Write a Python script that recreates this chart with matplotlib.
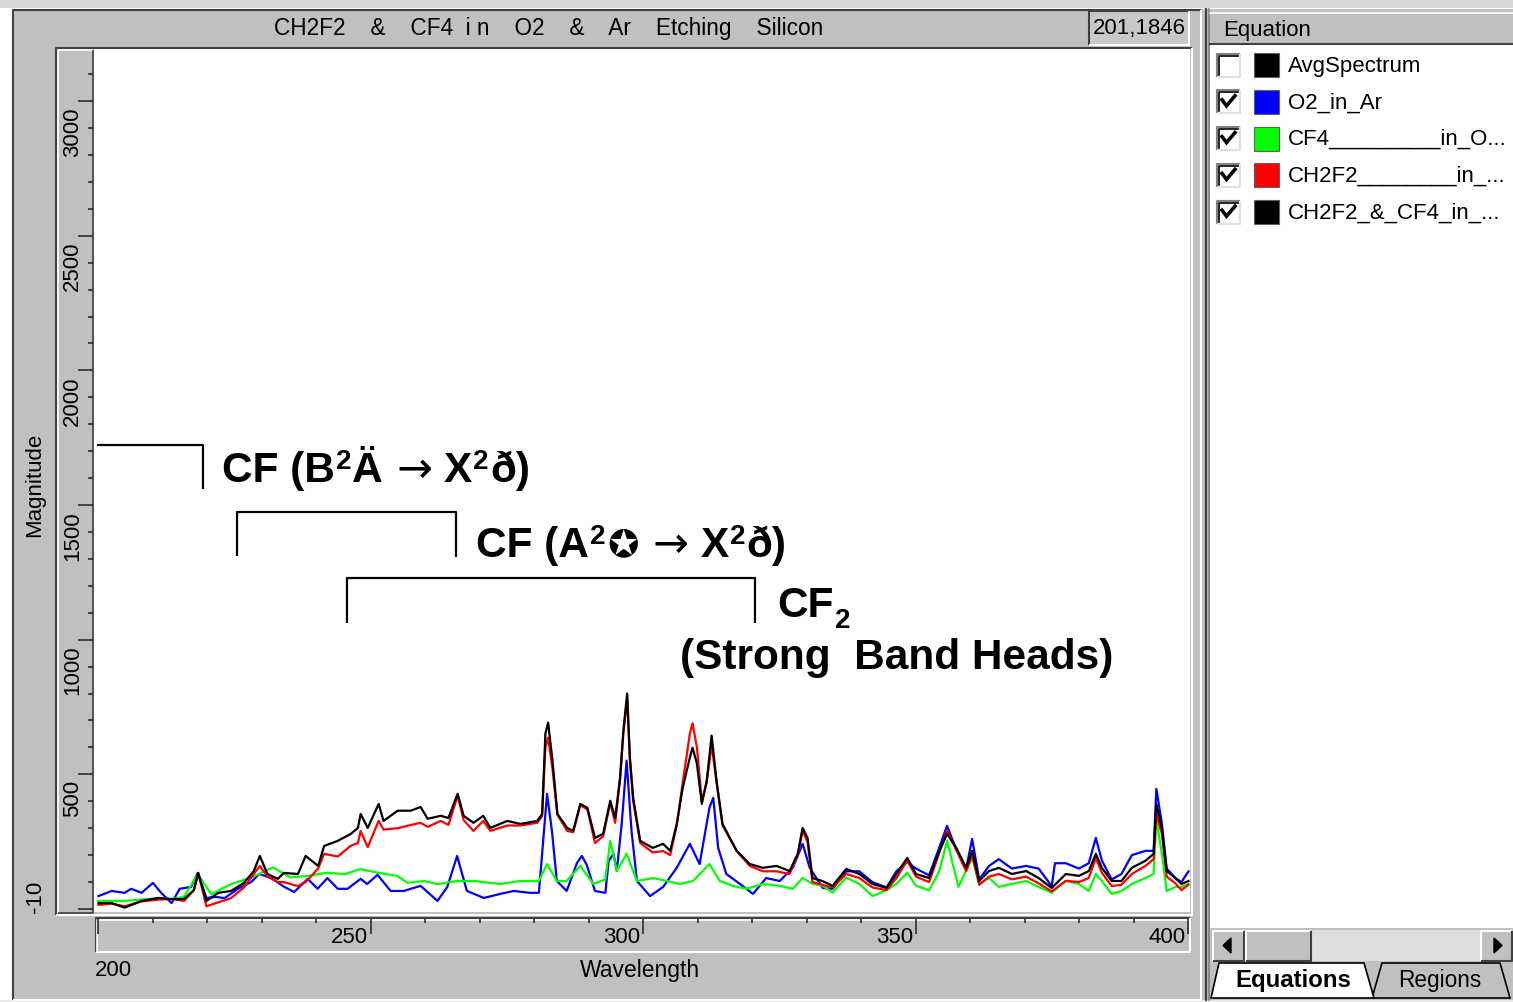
import matplotlib
matplotlib.use('Agg')
import matplotlib.pyplot as plt
from matplotlib.patches import Rectangle, Polygon
from matplotlib.ticker import MultipleLocator

# spectra: wavelength (nm) / magnitude
wl_o2 = [200, 202.4, 204.8, 206, 207.9, 210, 211.5, 213.4, 214.9, 217, 218.2, 219.8, 221.6, 223.1,
         225.6, 228, 229.5, 231.7, 234.1, 235.9, 238.4, 240.2, 242, 243.9, 245.7, 248.1, 249.3,
         251.2, 253.6, 256, 259.1, 262.2, 264, 265.8, 267.6, 270.7, 273.7, 276.2, 279.2, 280.8,
         281.4, 282.3, 283.2, 284.1, 285.9, 287.8, 288.7, 289.6, 291.1, 293, 293.6, 294.5, 295.1,
         296, 296.9, 297.8, 298.8, 301.2, 303.6, 306.1, 308.5, 310.3, 312.1, 312.8, 313.7, 315.2,
         317.7, 320.1, 322.5, 325, 327.4, 329.2, 330.5, 332.9, 334.7, 337.2, 339.6, 342, 344.6,
         346.4, 348.4, 350, 352.4, 354.3, 355.7, 357.4, 359.2, 360.3, 361.6, 363.4, 365.2, 367.6,
         370.2, 372.5, 374.9, 375.5, 377.5, 379.9, 381.7, 383, 384.1, 385.9, 387.7, 389.6, 392.1,
         393.6, 394.1, 395.1, 396, 397.6, 398.7, 400]
o2_in_ar = [48, 67, 60, 75, 60, 97, 60, 22, 75, 82, 134, 41, 45, 40,
            75, 100, 130, 115, 82, 63, 112, 75, 115, 75, 75, 112, 93,
            127, 67, 67, 86, 30, 82, 197, 67, 41, 56, 67, 60, 60,
            205, 428, 290, 104, 67, 171, 197, 163, 67, 60, 178, 205, 141,
            316, 551, 290, 104, 48, 82, 153, 242, 167, 376, 413, 227, 130,
            93, 56, 115, 104, 153, 242, 153, 78, 75, 140, 140, 100, 80,
            140, 175, 150, 125, 230, 309, 220, 150, 260, 110, 160, 185, 150,
            160, 150, 85, 170, 170, 150, 170, 264, 180, 110, 130, 200, 216,
            216, 446, 320, 150, 115, 100, 140]

wl_cf4 = [200, 202.4, 204.8, 207.9, 211, 213.4, 215.7, 218.2, 220.7, 224.3, 228, 232, 235.3, 238.4,
          242, 245.1, 248.1, 251.2, 254.8, 256.7, 259.7, 262.2, 265.8, 268.9, 271.9, 273.7, 277.4,
          280.8, 282.3, 284.1, 285.9, 288.4, 290.8, 293, 293.9, 295.1, 296.9, 298.8, 301.8, 304.2,
          306.7, 309.1, 312.1, 314, 316.4, 318.9, 321.9, 325, 327.4, 329.2, 331.1, 332.9, 334.7,
          337.2, 339.6, 342, 344.6, 346.4, 348.4, 350, 352.4, 354.3, 355.7, 357.8, 360.3, 361.6,
          363.4, 365.2, 367.6, 370.2, 372.5, 374.9, 377.5, 379.9, 381.7, 383, 384.1, 385.9, 387.7,
          389.6, 392.1, 393.6, 394.1, 395.1, 396, 397.6, 398.7, 400]
cf4_in_o2 = [30, 30, 30, 35, 40, 37, 45, 129, 55, 92, 117, 154, 117, 123,
             135, 129, 148, 135, 123, 97, 104, 92, 104, 104, 97, 93, 104,
             104, 167, 104, 104, 160, 93, 110, 253, 141, 205, 104, 115, 104,
             93, 104, 167, 104, 86, 75, 93, 86, 75, 115, 93, 86, 61,
             117, 93, 48, 70, 93, 135, 86, 70, 141, 253, 82, 190, 93,
             115, 82, 93, 104, 82, 61, 104, 93, 67, 130, 104, 56, 67,
             93, 115, 130, 335, 205, 67, 82, 82, 93]

wl_mix = [200, 202.4, 204.8, 207.9, 211, 213.4, 215.7, 217.5, 218.3, 219.8, 222, 224.3, 226.7, 228.5,
          229.6, 231, 232.9, 234, 236.6, 238, 240.3, 241.4, 243.9, 246.3, 247.6, 248.1, 249.4,
          251.4, 252.3, 254.9, 257.3, 259.1, 260.4, 262.8, 264.2, 265.9, 267, 268.8, 270.6, 271.9,
          275, 277.4, 280.5, 281.4, 282, 282.5, 283.3, 284.2, 286, 287.1, 288.4, 289.7, 291.1,
          292.6, 293.9, 294.8, 295.7, 296.3, 297, 297.5, 298.1, 299.4, 301.7, 303.6, 304.9, 306.1,
          307.2, 308.5, 309, 309.8, 310.7, 311.6, 312.5, 313.4, 314.5, 317.1, 319.5, 321.9, 324.4,
          326.8, 328.3, 329.2, 330.1, 331, 332.8, 334.7, 337.2, 339.6, 342, 344.6, 346.4, 348.4,
          350, 352.4, 354.3, 355.7, 357.4, 359.2, 360.3, 361.6, 363.4, 365.2, 367.6, 370.2, 372.5,
          374.9, 377.5, 379.9, 381.7, 383, 384.1, 385.9, 387.7, 389.6, 392.1, 393.6, 394.1, 395.1,
          396, 397.6, 398.7, 400]
mix_in_o2 = [22, 22, 5, 30, 41, 37, 37, 70, 134, 30, 60, 67, 97, 141,
             197, 130, 112, 134, 130, 197, 160, 234, 253, 279, 301, 353, 301,
             390, 327, 365, 365, 379, 335, 346, 338, 428, 346, 320, 346, 301,
             327, 316, 327, 353, 651, 692, 551, 353, 301, 290, 390, 376, 264,
             279, 402, 338, 487, 662, 800, 562, 413, 253, 227, 242, 216, 316,
             450, 562, 599, 540, 390, 476, 644, 476, 316, 216, 167, 153, 160,
             141, 205, 301, 264, 115, 104, 86, 149, 130, 93, 78, 130, 190,
             130, 115, 216, 279, 227, 153, 216, 104, 141, 153, 130, 141, 115,
             78, 130, 123, 141, 205, 153, 104, 104, 153, 179, 205, 390, 301,
             141, 115, 93, 104]

wl_ch2f2 = wl_mix
ch2f2_in_o2 = [15, 20, 10, 28, 35, 37, 30, 70, 134, 10, 25, 40, 80, 130,
               160, 120, 100, 100, 85, 100, 150, 205, 195, 235, 245, 290, 230,
               327, 295, 300, 312, 320, 305, 327, 312, 420, 330, 290, 327, 290,
               310, 310, 320, 345, 600, 636, 520, 350, 290, 285, 385, 370, 245,
               270, 395, 320, 480, 650, 780, 560, 400, 245, 210, 215, 200, 310,
               470, 650, 690, 600, 400, 470, 610, 470, 310, 215, 160, 140, 140,
               130, 200, 290, 250, 100, 90, 80, 130, 115, 80, 70, 115, 180,
               120, 100, 210, 290, 220, 140, 200, 90, 120, 130, 110, 120, 95,
               65, 105, 100, 115, 190, 135, 85, 90, 130, 160, 185, 353, 280,
               120, 95, 70, 90]

legend_names = ['AvgSpectrum', 'O2_in_Ar', 'CF4_________in_O...', 'CH2F2________in_...',
                'CH2F2_&_CF4_in_...']
legend_colors = ['black', '#0000ff', '#00ff00', '#ff0000', 'black']
legend_checked = [False, True, True, True, True]

y_label_ticks = [500, 1000, 1500, 2000, 2500, 3000]
x_label_ticks = [250, 300, 350, 400]

W, H = 1513, 1002
GRAY = '#c0c0c0'
DARK = '#404040'
plt.rcParams['font.family'] = ['Liberation Sans', 'DejaVu Sans']


# pixel -> data mapping of the screenshot
def wl_at(px):
    return 200 + (px - 98.5) / 5.45


def mag_at(py):
    return (909 - py) / 0.2693


def frac(x0, y0, x1, y1):
    return [x0 / W, 1 - y1 / H, (x1 - x0) / W, (y1 - y0) / H]


fig = plt.figure(figsize=(W / 100, H / 100), dpi=100)
fig.patch.set_facecolor('white')

# window chrome drawn on a pixel canvas
ui = fig.add_axes([0, 0, 1, 1])
ui.set_xlim(0, W)
ui.set_ylim(H, 0)
ui.axis('off')


def rect(x0, y0, x1, y1, fc, ec='none', lw=0):
    ui.add_patch(Rectangle((x0, y0), x1 - x0, y1 - y0, facecolor=fc, edgecolor=ec, linewidth=lw))


def bevel(x0, y0, x1, y1, tl, br, lw=1.2):
    ui.plot([x0, x0, x1], [y1, y0, y0], color=tl, lw=lw, solid_capstyle='butt')
    ui.plot([x0, x1, x1], [y1, y1, y0], color=br, lw=lw, solid_capstyle='butt')


rect(0, 0, W, 8, '#d8d8d8')
rect(12, 9, 1202, 1000, GRAY)
bevel(12.5, 9.5, 1201, 1000, DARK, 'white', lw=1.5)

# title strip
ui.text(549, 28, 'CH2F2    &    CF4  i n    O2    &    Ar    Etching    Silicon', ha='center',
        va='center', fontsize=16.3)
rect(1089, 11, 1189, 45, '#c8c8c8')
bevel(1089, 11, 1189, 45, DARK, 'white', lw=1.5)
ui.text(1139, 28, '201,1846', ha='center', va='center', fontsize=16)

# frames round rulers and plot
bevel(56, 47.5, 1192, 915, DARK, 'white', lw=1.5)
bevel(58, 50, 93, 913, 'white', DARK, lw=1.2)
bevel(95.5, 917.5, 1190, 952, DARK, 'white', lw=1.5)
ui.plot([97, 97, 1189], [951, 919.5, 919.5], color='white', lw=1.2)

ui.text(35, 485, 'Magnitude', rotation=90, ha='center', va='center', fontsize=16)
ui.text(35, 897, '-10', rotation=90, ha='center', va='center', fontsize=16)
ui.text(95, 971, '200', ha='left', va='center', fontsize=16)
ui.text(640, 970, 'Wavelength', ha='center', va='center', fontsize=16.5)

# right panel
rect(1202, 9, W, 1000, GRAY)
ui.plot([1205.5, 1205.5], [9, 1000], color=DARK, lw=1.5)
ui.plot([1208.5, 1208.5], [9, 1000], color='#808080', lw=1.2)
rect(1210, 12, W, 44, GRAY)
ui.plot([1210, W], [12.5, 12.5], color='white', lw=1.2)
ui.plot([1210, W], [44, 44], color=DARK, lw=1.5)
ui.text(1223, 30, 'Equation', ha='left', va='center', fontsize=16)
rect(1210, 45, W, 928, 'white')

for i, (name, col, chk) in enumerate(zip(legend_names, legend_colors, legend_checked)):
    yc = 65 + i * 36.8
    rect(1217, yc - 11.5, 1240, yc + 11.5, 'white')
    bevel(1217, yc - 11.5, 1240, yc + 11.5, '#808080', '#e0e0e0', lw=1.5)
    ui.plot([1219, 1219, 1238], [yc + 9.5, yc - 9.5, yc - 9.5], color='black', lw=1.2)
    if chk:
        ui.plot([1222, 1226.5, 1235], [yc - 2, yc + 4, yc - 6], color='black', lw=2.6,
                solid_joinstyle='miter')
    rect(1254, yc - 12, 1279, yc + 12, col, ec='#606060', lw=0.8)
    ui.text(1288, yc + 1, name, ha='left', va='center', fontsize=16)

# scrollbar
for x0, x1 in [(1212, 1245), (1245, 1312), (1480, W)]:
    rect(x0, 930, x1, 961, GRAY)
    bevel(x0 + 0.5, 930.5, x1 - 1, 960.5, 'white', DARK, lw=1.5)
rect(1312, 930, 1480, 961, '#dedede')
ui.add_patch(Polygon([(1223, 945.5), (1231, 938), (1231, 953)], closed=True, color='black'))
ui.add_patch(Polygon([(1502, 945.5), (1494, 938), (1494, 953)], closed=True, color='black'))

# tabs
ui.add_patch(Polygon([(1372, 998), (1382, 963), (1500, 963), (1510, 998)], closed=True,
                     facecolor=GRAY, edgecolor='black', lw=1.2))
ui.add_patch(Polygon([(1211, 998), (1219, 963), (1364, 963), (1374, 998)], closed=True,
                     facecolor='white', edgecolor='black', lw=1.2))
ui.text(1235, 981, 'Equations', ha='left', va='center', fontsize=17.3, fontweight='bold')
ui.text(1398, 981, 'Regions', ha='left', va='center', fontsize=16.3)
rect(0, 1000, W, H, '#e8e8e8')

# plot area
ax = fig.add_axes(frac(94, 49, 1190, 912))
ax.set_facecolor('white')
ax.set_xlim(wl_at(94), wl_at(1190))
ax.set_ylim(mag_at(912), mag_at(49))
ax.set_xticks([])
ax.set_yticks([])
for s in ax.spines.values():
    s.set_visible(False)

lw = 1.6
ax.plot(wl_o2, o2_in_ar, color='#0000ff', lw=lw)
ax.plot(wl_cf4, cf4_in_o2, color='#00ff00', lw=lw)
ax.plot(wl_ch2f2, ch2f2_in_o2, color='#ff0000', lw=lw)
ax.plot(wl_mix, mix_in_o2, color='black', lw=lw)

# band brackets
brk = dict(color='black', lw=1.6, solid_capstyle='butt')
ax.plot([wl_at(97), wl_at(203), wl_at(203)], [mag_at(445), mag_at(445), mag_at(489)], **brk)
ax.plot([wl_at(237), wl_at(237), wl_at(456), wl_at(456)],
        [mag_at(556), mag_at(512), mag_at(512), mag_at(557)], **brk)
ax.plot([wl_at(347), wl_at(347), wl_at(755), wl_at(755)],
        [mag_at(623), mag_at(578), mag_at(578), mag_at(623)], **brk)

# vertical ruler
yr = fig.add_axes(frac(58, 49, 93, 912))
yr.patch.set_visible(False)
yr.set_xlim(0, 1)
yr.set_ylim(mag_at(912), mag_at(49))
for s in yr.spines.values():
    s.set_visible(False)
yr.set_xticks([])
yr.yaxis.tick_right()
yr.set_yticks(range(0, 3001, 500))
yr.yaxis.set_minor_locator(MultipleLocator(100))
yr.tick_params(axis='y', which='major', direction='in', length=11, width=1.1, color='#202020',
               labelright=False, labelleft=False)
yr.tick_params(axis='y', which='minor', direction='in', length=3.6, width=1.1, color='#202020')
for v in y_label_ticks:
    yr.text(0.42, v - 6 / 0.2693, str(v), rotation=90, ha='center', va='top', fontsize=16,
            transform=yr.get_yaxis_transform())

# horizontal ruler
xr = fig.add_axes(frac(97, 919, 1189, 951))
xr.patch.set_visible(False)
xr.set_xlim(wl_at(97), wl_at(1189))
xr.set_ylim(0, 1)
for s in xr.spines.values():
    s.set_visible(False)
xr.set_yticks([])
xr.xaxis.tick_top()
xr.set_xticks(range(200, 401, 50))
xr.xaxis.set_minor_locator(MultipleLocator(10))
xr.tick_params(axis='x', which='major', direction='in', length=10.5, width=1.1, color='#202020',
               labeltop=False, labelbottom=False)
xr.tick_params(axis='x', which='minor', direction='in', length=3.2, width=1.1, color='#202020')
for v in x_label_ticks:
    xr.text(v - 3 / 5.45, 0.42, str(v), ha='right', va='center', fontsize=16,
            transform=xr.get_xaxis_transform())

# band labels, composed piece by piece in pixel coordinates
ov = fig.add_axes([0, 0, 1, 1])
ov.set_xlim(0, W)
ov.set_ylim(H, 0)
ov.axis('off')
renderer = fig.canvas.get_renderer()
BIG = 30.5
SUP = 20
SANS = ['Liberation Sans', 'DejaVu Sans']
DEJA = ['DejaVu Sans']


def label_run(x, base, parts):
    for s, size, rise, fam, weight in parts:
        if s is None:
            x += size
            continue
        t = ov.text(x, base - rise, s, fontsize=size, fontweight=weight, family=fam,
                    ha='left', va='baseline')
        x += t.get_window_extent(renderer).width


label_run(222, 482, [('CF (B', BIG, 0, SANS, 'bold'), (None, 1, 0, 0, 0),
                     ('2', SUP, 13, SANS, 'bold'), (None, 1, 0, 0, 0), ('Ä', BIG, 0, SANS, 'bold'),
                     (None, 13, 0, 0, 0), ('→', 31, 0, DEJA, 'normal'), (None, 12, 0, 0, 0),
                     ('X', BIG, 0, SANS, 'bold'), (None, 1, 0, 0, 0), ('2', SUP, 13, SANS, 'bold'),
                     (None, 1, 0, 0, 0), ('ð)', BIG, 0, SANS, 'bold')])
label_run(476, 557, [('CF (A', BIG, 0, SANS, 'bold'), (None, 1, 0, 0, 0),
                     ('2', SUP, 13, SANS, 'bold'), (None, 2, 0, 0, 0),
                     ('✪', 27, 1, DEJA, 'normal'), (None, 14, 0, 0, 0),
                     ('→', 31, 0, DEJA, 'normal'), (None, 12, 0, 0, 0),
                     ('X', BIG, 0, SANS, 'bold'), (None, 1, 0, 0, 0), ('2', SUP, 13, SANS, 'bold'),
                     (None, 1, 0, 0, 0), ('ð)', BIG, 0, SANS, 'bold')])
label_run(777, 617, [('CF', BIG, 0, SANS, 'bold'), (None, 2, 0, 0, 0),
                     ('2', 20, -11, SANS, 'bold')])
label_run(680, 669, [('(Strong  Band Heads)', BIG, 0, SANS, 'bold')])

fig.savefig('out.png', dpi=100, facecolor=fig.get_facecolor())
